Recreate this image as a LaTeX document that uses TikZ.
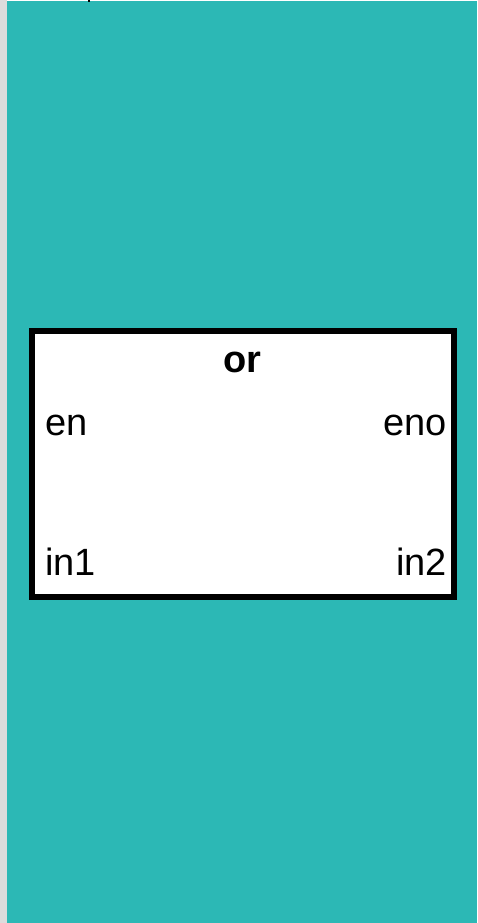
\documentclass[tikz,border=0pt]{standalone}
\usepackage{fontspec}
\setmainfont{Liberation Sans}
\definecolor{fondo}{HTML}{2CB8B5}
\definecolor{borde}{HTML}{DCDCDC}

\begin{document}
\begin{tikzpicture}[x=1pt, y=-1pt,
    bloque/.style={draw=black, line width=5.5pt, fill=white, inner sep=0pt, outer sep=0pt,
      minimum width=422pt, minimum height=266pt, anchor=north west},
    pin/.style={font=\fontsize{38}{40}\selectfont, inner sep=0pt}]
  % Fondo
  \useasboundingbox (0,0) rectangle (477,923);
  \fill[borde] (0,0) rectangle (7,923);
  \fill[fondo] (7,1) rectangle (477,923);
  \fill[black] (88,0) rectangle (90,2);
  % Bloque de función
  \node[bloque] (or) at (32,331) {};
  \node[pin, font=\bfseries\fontsize{38}{40}\selectfont, anchor=base] (nombre) at (242.5,372) {or};
  % Entradas y salidas
  \node[pin, anchor=base west] (en) at (45,435) {en};
  \node[pin, anchor=base east] (eno) at (447,435) {eno};
  \node[pin, anchor=base west] (in1) at (45,575) {in1};
  \node[pin, anchor=base east] (in2) at (447,575) {in2};
\end{tikzpicture}
\end{document}
